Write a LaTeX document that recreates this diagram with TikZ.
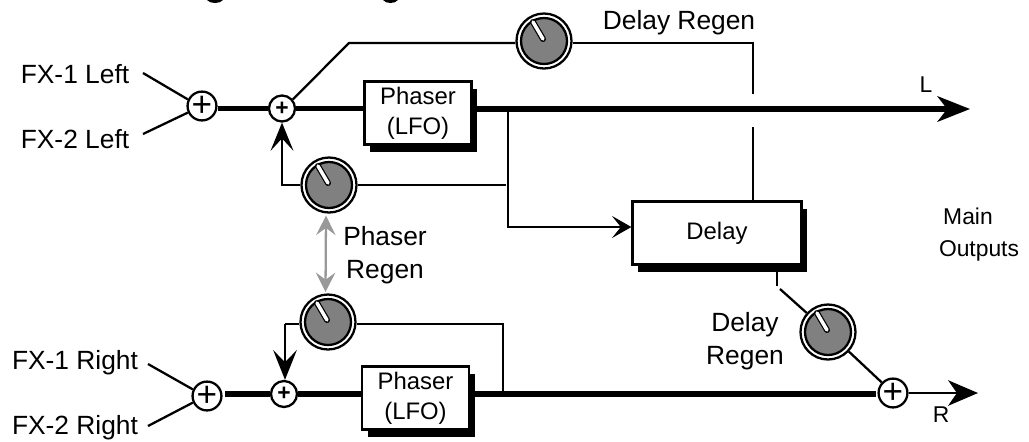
\documentclass[tikz,border=0pt]{standalone}
\usepackage{fontspec}
\setmainfont{Liberation Sans}
\usetikzlibrary{arrows.meta,shadows}
\definecolor{knobgray}{RGB}{128,128,128}
\definecolor{softgray}{RGB}{153,153,153}

\begin{document}
\begin{tikzpicture}[
    x=0.02cm, y=-0.02cm,
    lab/.style={font=\fontsize{15}{18.5}\selectfont,align=center,inner sep=0pt},
    small/.style={font=\fontsize{13}{18.5}\selectfont,align=center,inner sep=0pt},
    fxbox/.style={draw,fill=white,line width=1.3pt,minimum width=2.14cm,minimum height=1.26cm,inner sep=0pt,align=center,
        font=\fontsize{13.6}{17}\selectfont,drop shadow={shadow xshift=3.2pt,shadow yshift=-4pt,fill=black,opacity=1}},
    bigsum/.style={circle,draw,fill=white,line width=1.3pt,minimum size=28*0.02cm,inner sep=0pt,font=\fontsize{20}{20}\selectfont},
    sum/.style={circle,draw,fill=white,line width=1.3pt,minimum size=26*0.02cm,inner sep=0pt,font=\bfseries\fontsize{13}{13}\selectfont},
    knob/.style={circle,draw,fill=white,line width=1.3pt,minimum size=55*0.02cm,inner sep=0pt,
        path picture={
            \draw[line width=1.3pt,fill=knobgray] (path picture bounding box.center) circle (23);
            \draw[line width=3.4pt,line cap=round] ([shift={(-1,-2)}]path picture bounding box.center) -- ++(-10,-17);
            \draw[white,line width=2pt,line cap=round] ([shift={(-1,-2)}]path picture bounding box.center) -- ++(-10,-17);
        }},
    thin/.style={line width=1.3pt},
    fat/.style={line width=2.9pt},
    >=Stealth
]
% title remains
\fill (207,0) .. controls (210,4) and (220,4) .. (223,0) -- cycle;
\fill (383,0) .. controls (386,4) and (395,4) .. (398,0) -- cycle;

% left channel
\node[lab] (fx1l) at (75,74) {FX-1 Left};
\node[lab] (fx2l) at (75,139) {FX-2 Left};
\node[bigsum] (s1) at (202,106) {+};
\node[sum] (s2) at (282,108.5) {+};
\node[fxbox] (ph1) at (418,113) {Phaser\\(LFO)};
\node[knob] (k1) at (544,41) {};
\node[knob] (k2) at (329,185) {};
\node[fxbox,minimum width=3.38cm] (dly) at (717,233) {Delay};

% right channel
\node[lab] (fx1r) at (75,363) {FX-1 Right};
\node[lab] (fx2r) at (75,428) {FX-2 Right};
\node[bigsum] (s3) at (207,396) {+};
\node[sum] (s4) at (284,394) {+};
\node[fxbox] (ph2) at (415.5,398) {Phaser\\(LFO)};
\node[knob] (k3) at (328,322) {};
\node[knob] (k4) at (828,332) {};
\node[bigsum] (s5) at (893,393) {+};

% labels
\node[lab] (lregen) at (679,23) {Delay Regen};
\node[lab] (pregen) at (385,255) {Phaser\\Regen};
\node[lab] (rregen) at (745,341) {Delay\\Regen};
\node[small,align=left] (mainout) at (979,234.5) {\hspace{2.4pt}Main\\Outputs};
\node[small] (ll) at (926,85) {L};
\node[small] (rr) at (941,415) {R};

% free ends
\coordinate (ltip) at (970,109);
\coordinate (rtip) at (978,393);
\coordinate (ja) at (349,43);
\coordinate (jb) at (753,43);
\coordinate (gapa) at (753,94);
\coordinate (gapb) at (753,127);
\coordinate (jc) at (508,109);
\coordinate (jd) at (508,227);
\coordinate (je) at (506,185);
\coordinate (jf) at (503,394);
\coordinate (jg) at (503,324);
\coordinate (jh) at (285,324);
\coordinate (ji) at (777,272);
\coordinate (jj) at (777,286);
\coordinate (jk) at (780,289);

% inputs
\draw[thin] (143,73) -- (s1.155);
\draw[thin] (143,134) -- (s1.205);
\draw[thin] (148,364) -- (s3.155);
\draw[thin] (148,426) -- (s3.205);

% main lines
\draw[fat] (s1.east |- s2) -- (s2);
\draw[fat] (s2) -- (ph1.west |- s2);
\draw[fat,-{Stealth[length=18.5pt,width=14.5pt,inset=5.5pt]}] (ph1.east |- ltip) ++(2pt,0) -- (ltip);
\draw[fat] (225,394) -- (s4);
\draw[fat] (s4) -- (ph2.west |- s4);
\draw[fat] (ph2.east |- s4) ++(2pt,0) -- (876,394);
\draw[thin,-{Stealth[length=17pt,width=14.5pt,inset=5pt]}] (s5) -- (rtip);

% regen paths
\draw[thin] (s2.40) -- (ja) -- (k1.west |- ja);
\draw[thin] (k1.east |- jb) -- (jb) -- (gapa);
\draw[thin] (gapb) -- (dly.north -| gapb);
\draw[thin,-{Stealth[length=16pt,width=13pt,inset=7pt]}] (k2.west) -- (s2 |- k2) -- (s2.south);
\draw[thin] (k2.east) -- (je);
\draw[thin,-{Stealth[length=11pt,width=12.5pt,inset=5pt]}] (jc) -- (jd) -- (dly.west |- jd);
\draw[thin] (k3.east |- jg) -- (jg) -- (jf);
\draw[thin] (k3.west |- jh) -- (jh);
\draw[thin,-{Stealth[length=17pt,width=13.5pt,inset=7pt]}] (jh) -- (jh |- s4.north);
\draw[thin] (ji) -- (jj);
\draw[thin] (jk) -- (k4);
\draw[thin] (k4) -- (s5);

% linked knobs
\draw[thin,softgray,{Stealth[length=11pt,width=11pt,inset=4pt]}-{Stealth[length=11pt,width=11pt,inset=4pt]}] (k2.south) ++(-3,2) -- (325.5,292);

\useasboundingbox (0,0) rectangle (1029,441);
\end{tikzpicture}
\end{document}
